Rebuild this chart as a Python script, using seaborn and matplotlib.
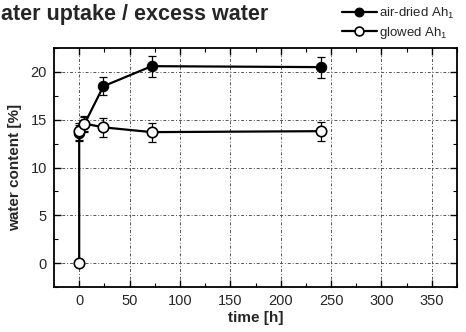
import matplotlib
matplotlib.use("Agg")
import matplotlib.pyplot as plt
import seaborn as sns
import pandas as pd
from matplotlib.ticker import MultipleLocator

# data
air_t = [0, 5, 24, 72, 240]
air_v = [13.6, 14.5, 18.5, 20.6, 20.5]
air_e = [0.8, 0.8, 0.95, 1.1, 1.1]
glow_t = [0, 0, 5, 24, 72, 240]
glow_v = [0.0, 13.8, 14.6, 14.2, 13.7, 13.8]
glow_e = [0.0, 0.9, 0.8, 1.0, 1.0, 1.0]
labels = ["air-dried Ah$_1$", "glowed Ah$_1$"]

sns.set_style("ticks")
plt.rcParams['font.family'] = ['Liberation Sans', 'DejaVu Sans']
plt.rcParams['mathtext.fontset'] = 'custom'
plt.rcParams['mathtext.rm'] = 'Liberation Sans'

fig = plt.figure(figsize=(4.66, 3.32), dpi=100)
ax = fig.add_axes([54/466, 1-287/332, (457-54)/466, (287-48)/332])

df_air = pd.DataFrame({"t": air_t, "v": air_v})
df_glow = pd.DataFrame({"t": glow_t, "v": glow_v})

ax.errorbar(air_t, air_v, yerr=air_e, fmt='none', ecolor='black', elinewidth=0.9, capsize=3, capthick=0.9, zorder=2)
ax.errorbar(glow_t[1:], glow_v[1:], yerr=glow_e[1:], fmt='none', ecolor='black', elinewidth=0.9, capsize=3, capthick=0.9, zorder=2)
sns.lineplot(data=df_air, x="t", y="v", sort=False, estimator=None, ax=ax, color='black', lw=1.6,
             marker='o', markersize=7.5, markerfacecolor='black', markeredgecolor='black',
             label=labels[0], zorder=3)
sns.lineplot(data=df_glow, x="t", y="v", sort=False, estimator=None, ax=ax, color='black', lw=1.6,
             marker='o', markersize=7.5, markerfacecolor='white', markeredgecolor='black',
             markeredgewidth=1.2, label=labels[1], zorder=4)

ax.set_xlim(-25, 375)
ax.set_ylim(-2.5, 22.5)
ax.xaxis.set_major_locator(MultipleLocator(50))
ax.xaxis.set_minor_locator(MultipleLocator(25))
ax.yaxis.set_major_locator(MultipleLocator(5))
ax.yaxis.set_minor_locator(MultipleLocator(2.5))
ax.tick_params(which='both', direction='in', top=True, right=True, color='black')
ax.tick_params(which='major', length=5, width=1, labelsize=10.5, pad=5)
ax.tick_params(which='minor', length=3, width=0.8)
for s in ax.spines.values():
    s.set_linewidth(1.3)
    s.set_color('black')
ax.grid(True, which='major', linestyle=(0, (3, 2, 1, 2)), color='#555555', lw=0.7)
ax.set_axisbelow(True)

ax.set_xlabel("time [h]", fontsize=11, fontweight='bold', labelpad=2)
ax.set_ylabel("water content [%]", fontsize=11, fontweight='bold', labelpad=6)

ax.get_legend().remove()
h, l = ax.get_legend_handles_labels()
fig.legend(h, l, loc='upper left', bbox_to_anchor=(333/466, 1.01), frameon=False,
           fontsize=9.5, handlelength=2.6, handletextpad=0.2, labelspacing=0.3, borderpad=0.2,
           markerscale=0.85)

fig.text(0.003, 0.955, "ater uptake / excess water", fontsize=15.5, fontweight='bold', va='center', ha='left')

fig.savefig("out.png", dpi=100)
